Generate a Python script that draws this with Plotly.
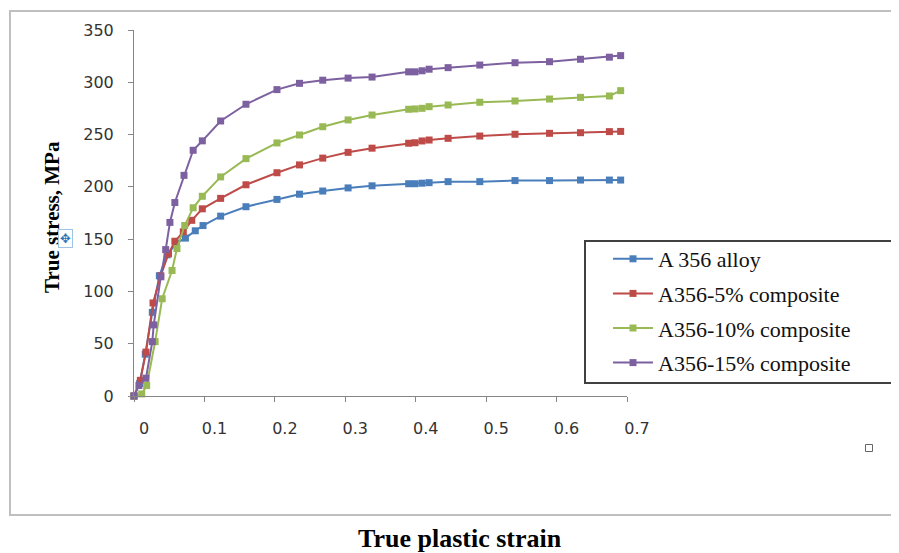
import plotly.graph_objects as go

# ---- data ----
series_names = ["A 356 alloy", "A356-5% composite", "A356-10% composite", "A356-15% composite"]

strain_alloy = [0, 0.008, 0.016, 0.026, 0.036, 0.047, 0.060, 0.073, 0.087, 0.098, 0.123, 0.159, 0.203, 0.235,
                0.268, 0.304, 0.338, 0.390, 0.399, 0.409, 0.419, 0.446, 0.491, 0.541, 0.590, 0.634, 0.675, 0.691]
stress_alloy = [0, 12, 40, 80, 115, 135, 146, 151, 158, 163, 172, 181, 188, 193,
                196, 199, 201, 203, 203, 203.5, 204, 205, 205, 206, 206, 206.5, 206.5, 206.5]

strain_5 = [0, 0.009, 0.017, 0.027, 0.038, 0.049, 0.058, 0.070, 0.082, 0.097, 0.123, 0.159, 0.203, 0.235,
            0.268, 0.304, 0.338, 0.390, 0.399, 0.409, 0.419, 0.446, 0.491, 0.541, 0.590, 0.634, 0.675, 0.691]
stress_5 = [0, 15, 42, 89, 115, 136, 148, 157, 168, 179, 189, 202, 213.5, 221,
            227.5, 233, 237, 241.7, 242.2, 243.9, 244.8, 246.4, 248.6, 250.3, 251.2, 251.8, 252.8, 253]

strain_10 = [0, 0.011, 0.018, 0.030, 0.040, 0.054, 0.061, 0.072, 0.084, 0.097, 0.123, 0.159, 0.203, 0.235,
             0.268, 0.304, 0.338, 0.390, 0.399, 0.409, 0.419, 0.446, 0.491, 0.541, 0.590, 0.634, 0.675, 0.691]
stress_10 = [0, 2, 10, 52, 93, 120, 141, 163, 180, 191, 209.5, 227, 242, 249.6,
             257.5, 264, 268.7, 274.2, 274.5, 275.1, 276.7, 278.3, 280.9, 282.1, 284, 285.6, 286.9, 292]

strain_15 = [0, 0.007, 0.017, 0.026, 0.028, 0.038, 0.045, 0.051, 0.058, 0.071, 0.084, 0.097, 0.123, 0.159,
             0.203, 0.235, 0.268, 0.304, 0.338, 0.390, 0.399, 0.409, 0.419, 0.446, 0.491, 0.541, 0.590,
             0.634, 0.675, 0.691]
stress_15 = [0, 10, 17, 52, 68, 114, 140, 166, 185, 211, 235, 244, 263, 279,
             293, 299, 302, 304, 305, 310, 310, 311, 312.5, 314, 316.5, 318.7, 319.7,
             322, 324, 325.5]

x_ticks = [0, 0.1, 0.2, 0.3, 0.4, 0.5, 0.6, 0.7]
y_ticks = [0, 50, 100, 150, 200, 250, 300, 350]

colors = ["#4A7EBB", "#BE4B48", "#98B954", "#7D60A0"]

# ---- layout geometry (page pixels of the 899x553 window; the page body has an 8px margin) ----
OFF = 8
W, H = 899 - OFF, 553 - OFF
L, R, T, B = 134, 627, 30, 396  # plot area in page pixels


def px_x(p):
    return (p - L) / (R - L)


def px_y(p):
    return (B - p) / (B - T)


fig = go.Figure()
data = [(strain_alloy, stress_alloy), (strain_5, stress_5), (strain_10, stress_10), (strain_15, stress_15)]
for i, ((xs, ys), name) in enumerate(zip(data, series_names)):
    fig.add_trace(go.Scatter(
        x=xs, y=ys, name=name, mode="lines+markers",
        line=dict(color=colors[i], width=2),
        marker=dict(symbol="square", size=7, color=colors[i]),
        cliponaxis=False, legendgroup=name,
    ))

axis_col = "#868686"
tick_font = dict(family="DejaVu Sans", size=16, color="#333333")

fig.update_layout(
    width=W, height=H,
    margin=dict(l=L - OFF, r=899 - R, t=T - OFF, b=553 - B, pad=0),
    paper_bgcolor="white", plot_bgcolor="white",
    showlegend=True,
    legend=dict(
        x=px_x(608), y=px_y(238), xanchor="left", yanchor="top",
        font=dict(family="Liberation Serif", size=22, color="#111111"),
        bgcolor="rgba(0,0,0,0)", borderwidth=0,
        tracegroupgap=3, itemwidth=40,
    ),
    xaxis=dict(
        range=[0, 0.7], tickvals=x_ticks, ticktext=[str(v) for v in x_ticks],
        showgrid=False, zeroline=False, showline=True, linecolor=axis_col, linewidth=1,
        ticks="outside", ticklen=5, tickcolor=axis_col, tickfont=tick_font,
        ticklabelstandoff=13, ticklabelshift=10,
    ),
    yaxis=dict(
        range=[0, 350], tickvals=y_ticks,
        showgrid=False, zeroline=False, showline=True, linecolor=axis_col, linewidth=1,
        ticks="outside", ticklen=5, tickcolor=axis_col, tickfont=tick_font,
        ticklabelstandoff=11,
    ),
    shapes=[
        # outer chart border
        dict(type="rect", xref="paper", yref="paper",
             x0=px_x(10), x1=px_x(910), y0=px_y(515), y1=px_y(11),
             line=dict(color="#BFBFBF", width=2), fillcolor="rgba(0,0,0,0)", layer="below"),
        # legend frame
        dict(type="rect", xref="paper", yref="paper",
             x0=px_x(585), x1=px_x(894), y0=px_y(383), y1=px_y(241),
             line=dict(color="#404040", width=2), fillcolor="rgba(0,0,0,0)"),
        # small square marker at lower right
        dict(type="rect", xref="paper", yref="paper",
             x0=px_x(865.5), x1=px_x(872.5), y0=px_y(451.5), y1=px_y(444.5),
             line=dict(color="#666666", width=1), fillcolor="white"),
    ],
    annotations=[
        dict(text="<b>True plastic strain</b>", xref="paper", yref="paper",
             x=px_x(460), y=px_y(538), xanchor="center", yanchor="middle", showarrow=False,
             font=dict(family="Liberation Serif", size=26, color="black")),
        dict(text="<b>True stress, MPa</b>", xref="paper", yref="paper",
             x=px_x(52), y=px_y(217), xanchor="center", yanchor="middle", showarrow=False,
             textangle=-90, font=dict(family="Liberation Serif", size=21, color="black")),
        dict(text="✥", xref="paper", yref="paper",
             x=px_x(65), y=px_y(238), xanchor="center", yanchor="middle", showarrow=False,
             font=dict(family="DejaVu Sans", size=13, color="#2E75B6"),
             bgcolor="white", bordercolor="#9DC3E6", borderwidth=1, borderpad=1),
    ],
)

fig.write_html("out.html")
